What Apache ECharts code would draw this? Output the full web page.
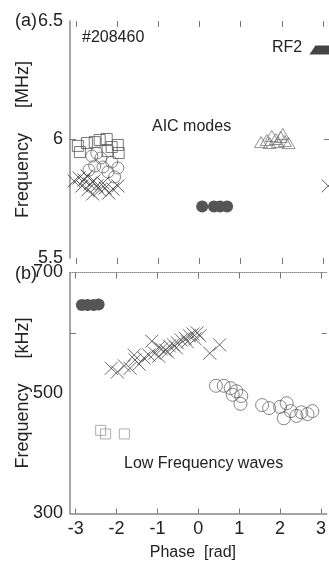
<!DOCTYPE html>
<html>
<head>
<meta charset="utf-8">
<script src="https://cdn.jsdelivr.net/npm/echarts@6/dist/echarts.min.js"></script>
<style>
html, body { margin: 0; padding: 0; background: #fff; }
#chart { width: 329px; height: 565px; }
</style>
</head>
<body>
<div id="chart"></div>
<script>
// tick labels
const phaseTicks = [-3, -2, -1, 0, 1, 2, 3]
const aicTicks = [5.5, 6, 6.5]
const lowTicks = [300, 500, 700]

// (a) AIC modes, [phase rad, frequency MHz]
const aicSquares = [[-2.95, 5.973], [-2.90, 5.947], [-2.73, 5.985], [-2.54, 5.989], [-2.42, 5.998],
  [-2.25, 6.002], [-2.23, 5.951], [-2.13, 5.968], [-1.98, 5.977], [-1.96, 5.943]]
const aicCircles = [[-2.61, 5.930], [-2.49, 5.943], [-2.39, 5.922], [-2.54, 5.888], [-2.34, 5.884],
  [-2.22, 5.863], [-2.13, 5.905], [-1.98, 5.880], [-2.68, 5.871], [-2.06, 5.842]]
const aicCrosses = [[-3.04, 5.825], [-2.92, 5.838], [-2.80, 5.829], [-2.73, 5.846], [-2.66, 5.812],
  [-2.56, 5.825], [-2.49, 5.804], [-2.71, 5.787], [-2.42, 5.787], [-2.29, 5.795], [-2.20, 5.774],
  [-2.10, 5.791], [-1.98, 5.804], [-2.34, 5.816], [-2.85, 5.804], [-2.59, 5.770], [3.12, 5.804]]
const aicTriangles = [[1.49, 5.989], [1.63, 5.998], [1.75, 6.015], [1.85, 6.002], [1.97, 6.011],
  [2.07, 5.994], [2.16, 5.985], [1.90, 5.989], [1.70, 5.985], [2.02, 6.023]]
const aicDots = [[0.065, 5.717], [0.35, 5.717], [0.50, 5.717], [0.67, 5.717]]
const rf2 = [[3.03, 6.378]]

// (b) low frequency waves, [phase rad, frequency kHz]
const lowDots = [[-2.85, 646], [-2.71, 646], [-2.56, 646], [-2.44, 647]]
const lowSquares = [[-2.39, 438], [-2.27, 432], [-1.81, 432]]
const lowCrosses = [[-2.13, 541], [-1.98, 535], [-1.81, 545], [-1.67, 541], [-1.55, 555],
  [-1.45, 548], [-1.33, 558], [-1.21, 563], [-1.14, 586], [-1.07, 566], [-0.97, 561],
  [-0.90, 573], [-0.80, 571], [-0.71, 578], [-0.61, 580], [-0.51, 583], [-0.42, 588],
  [-0.32, 591], [-0.22, 595], [-0.13, 598], [-0.03, 600], [0.04, 595], [-0.08, 590],
  [-0.27, 585], [-0.54, 575], [-0.75, 568], [-0.97, 576], [0.28, 566], [0.52, 580], [-1.57, 563]]
const lowCircles = [[0.43, 512], [0.62, 512], [0.79, 508], [0.93, 503], [1.05, 495], [1.03, 482],
  [0.84, 497], [1.56, 480], [1.73, 475], [2.00, 477], [2.16, 483], [2.26, 470], [2.40, 462],
  [2.52, 468], [2.67, 465], [2.79, 470], [2.09, 458]]

const font = 'Liberation Sans, Arial, sans-serif'
const crossPath = 'path://M0 0L10 10M10 0L0 10'
const rf2Path = 'path://M6 0L24 0L30 10L0 10Z'

const ctx = document.getElementById('chart')
const chart = echarts.init(ctx)

function xAx(grid, pos, opts) {
  return Object.assign({
    type: 'value', gridIndex: grid, position: pos, min: -3.14, max: 3.14,
    axisLine: { show: false, onZero: false },
    axisTick: { customValues: phaseTicks, inside: true, length: 6, lineStyle: { color: '#777' } },
    axisLabel: { show: false },
    splitLine: { show: false },
  }, opts)
}

function yAx(grid, pos, min, max, interval, tickVals, opts) {
  return Object.assign({
    type: 'value', gridIndex: grid, position: pos, min, max, interval,
    axisLine: { show: false, onZero: false },
    axisTick: { customValues: tickVals, inside: true, length: 5, lineStyle: { color: '#777' } },
    axisLabel: { show: false },
    splitLine: { show: false },
  }, opts)
}

function pts(name, data, x, y, symbol, size, color, filled) {
  return {
    name, type: 'scatter', xAxisIndex: x, yAxisIndex: y, data, symbol, symbolSize: size,
    clip: false,
    itemStyle: filled
      ? { color, opacity: 1 }
      : { color: 'transparent', borderColor: color, borderWidth: 0.8, opacity: 1 },
  }
}

chart.setOption({
  animation: false,
  textStyle: { fontFamily: font },
  grid: [
    { left: 70, top: 21, width: 261, height: 237 },
    { left: 70, top: 272.5, width: 261, height: 241 },
  ],
  xAxis: [
    xAx(0, 'bottom', { axisTick: { customValues: phaseTicks, inside: false, length: 6, lineStyle: { color: '#777' } } }),
    xAx(0, 'top'),
    xAx(1, 'bottom', {
      axisLine: { show: true, onZero: false, lineStyle: { color: '#888', width: 1.5 } },
      axisTick: { customValues: phaseTicks, inside: true, length: 5, lineStyle: { color: '#777' } },
      axisLabel: { customValues: phaseTicks, fontSize: 18, color: '#222', margin: 7, fontFamily: font },
      name: 'Phase  [rad]', nameLocation: 'middle', nameGap: 31, nameMoveOverlap: false,
      nameTextStyle: { fontSize: 16, color: '#222', fontFamily: font, padding: [0, 11, 0, 0] },
    }),
    xAx(1, 'top', {
      axisLine: { show: true, onZero: false, lineStyle: { color: '#888', width: 1, type: 'dotted' } },
    }),
  ],
  yAxis: [
    yAx(0, 'left', 5.5, 6.5, 0.5, [6], {
      axisLine: { show: true, onZero: false, lineStyle: { color: '#888', width: 1.5 } },
      axisTick: { customValues: [6], inside: true, length: 6, lineStyle: { color: '#777' } },
      axisLabel: { customValues: aicTicks, fontSize: 18, color: '#222', margin: 7, fontFamily: font },
      name: 'Frequency     [MHz]', nameLocation: 'middle', nameGap: 38, nameMoveOverlap: false,
      nameTextStyle: { fontSize: 18, color: '#222', fontFamily: font },
    }),
    yAx(0, 'right', 5.5, 6.5, 0.5, [6]),
    yAx(1, 'left', 300, 700, 100, [600], {
      axisLine: { show: true, onZero: false, lineStyle: { color: '#888', width: 1.5 } },
      axisTick: { customValues: [600], inside: true, length: 6, lineStyle: { color: '#777' } },
      axisLabel: { customValues: lowTicks, fontSize: 18, color: '#222', margin: 7, fontFamily: font },
      name: 'Frequency     [kHz]', nameLocation: 'middle', nameGap: 38, nameMoveOverlap: false,
      nameTextStyle: { fontSize: 18, color: '#222', fontFamily: font },
    }),
    yAx(1, 'right', 300, 700, 100, [600]),
  ],
  graphic: [
    { type: 'text', left: 15, top: 12, style: { text: '(a)', font: '18px ' + font, fill: '#222' } },
    { type: 'text', left: 15, top: 265, style: { text: '(b)', font: '18px ' + font, fill: '#222' } },
    { type: 'text', left: 82, top: 30, style: { text: '#208460', font: '16px ' + font, fill: '#222' } },
    { type: 'text', left: 272, top: 40, style: { text: 'RF2', font: '16px ' + font, fill: '#222' } },
    { type: 'text', left: 152, top: 119, style: { text: 'AIC modes', font: '16px ' + font, fill: '#222' } },
    { type: 'text', left: 124, top: 456, style: { text: 'Low Frequency waves', font: '16px ' + font, fill: '#222' } },
  ],
  series: [
    pts('aic squares', aicSquares, 0, 0, 'rect', 11, '#555', false),
    pts('aic circles', aicCircles, 0, 0, 'circle', 12, '#666', false),
    pts('aic crosses', aicCrosses, 0, 0, crossPath, 13, '#333', false),
    pts('aic triangles', aicTriangles, 0, 0, 'triangle', [13, 11], '#777', false),
    pts('aic dots', aicDots, 0, 0, 'circle', 12, '#555', true),
    pts('RF2', rf2, 0, 0, rf2Path, [30, 9], '#444', true),
    pts('low dots', lowDots, 2, 2, 'circle', 12, '#555', true),
    pts('low squares', lowSquares, 2, 2, 'rect', 10, '#999', false),
    pts('low crosses', lowCrosses, 2, 2, crossPath, 13, '#444', false),
    pts('low circles', lowCircles, 2, 2, 'circle', 13, '#666', false),
  ],
})
</script>
</body>
</html>
